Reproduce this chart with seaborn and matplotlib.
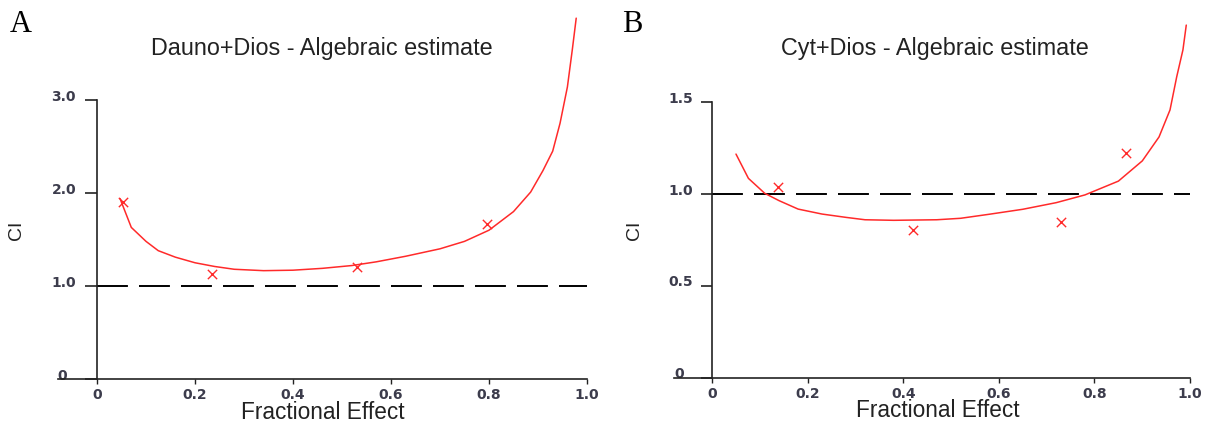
import numpy as np
import pandas as pd
import matplotlib
matplotlib.use("Agg")
import matplotlib.pyplot as plt
import matplotlib.transforms as mtransforms
import seaborn as sns

# ---------------- data ----------------
# Panel A: Dauno+Dios
a_curve_fa = [0.047, 0.07, 0.10, 0.125, 0.16, 0.20, 0.24, 0.28, 0.34, 0.40, 0.46,
              0.52, 0.57, 0.63, 0.70, 0.75, 0.80, 0.85, 0.885, 0.91, 0.93, 0.945,
              0.96, 0.97, 0.978]
a_curve_ci = [1.94, 1.63, 1.48, 1.38, 1.31, 1.25, 1.21, 1.18, 1.165, 1.17, 1.19,
              1.22, 1.26, 1.32, 1.40, 1.48, 1.60, 1.80, 2.01, 2.24, 2.45, 2.75,
              3.14, 3.54, 3.88]
a_pts_fa = [0.054, 0.235, 0.53, 0.795]
a_pts_ci = [1.90, 1.13, 1.20, 1.67]

# Panel B: Cyt+Dios
b_curve_fa = [0.05, 0.076, 0.11, 0.14, 0.18, 0.23, 0.28, 0.32, 0.38, 0.47, 0.52,
              0.58, 0.65, 0.72, 0.78, 0.85, 0.90, 0.935, 0.958, 0.972, 0.985, 0.992]
b_curve_ci = [1.217, 1.085, 1.004, 0.964, 0.918, 0.891, 0.873, 0.86, 0.857, 0.86,
              0.868, 0.89, 0.917, 0.953, 0.995, 1.07, 1.18, 1.31, 1.457, 1.637,
              1.783, 1.918]
b_pts_fa = [0.137, 0.421, 0.73, 0.865]
b_pts_ci = [1.036, 0.804, 0.85, 1.221]

x_ticks = [0, 0.2, 0.4, 0.6, 0.8, 1.0]
x_ticklabels = ["0", "0.2", "0.4", "0.6", "0.8", "1.0"]
a_yticks = [0, 1.0, 2.0, 3.0]
a_yticklabels = ["0", "1.0", "2.0", "3.0"]
b_yticks = [0, 0.5, 1.0, 1.5]
b_yticklabels = ["0", "0.5", "1.0", "1.5"]

titles = ["Dauno+Dios - Algebraic estimate", "Cyt+Dios - Algebraic estimate"]
panel_letters = ["A", "B"]

# ---------------- style ----------------
sns.set_style("white")
plt.rcParams["font.family"] = ["Liberation Sans", "DejaVu Sans"]

fig = plt.figure(figsize=(12.10, 4.24), dpi=100)

RED = "#ff2a2a"
TICKCOL = "#3c3c4c"

panels = [
    dict(rect=[0.04777, 0.1061, 0.4414, 0.8774], ylim=(0, 4.0), ybound=3.0,
         cf=a_curve_fa, cc=a_curve_ci, pf=a_pts_fa, pc=a_pts_ci,
         yt=a_yticks, ytl=a_yticklabels, title=titles[0], tx=322, letter="A", lx=10,
         xl_x=0.4965, ytick_pad=6.5, ytick_len=8.6),
    dict(rect=[0.5569, 0.1085, 0.4306, 0.8679], ylim=(0, 2.0), ybound=1.5,
         cf=b_curve_fa, cc=b_curve_ci, pf=b_pts_fa, pc=b_pts_ci,
         yt=b_yticks, ytl=b_yticklabels, title=titles[1], tx=935, letter="B", lx=622,
         xl_x=0.506, ytick_pad=5.5, ytick_len=8.0),
]

for p in panels:
    ax = fig.add_axes(p["rect"])
    ax.set_facecolor("white")
    ax.set_xlim(-0.08, 1.01)
    ax.set_ylim(*p["ylim"])

    df_line = pd.DataFrame({"fa": p["cf"], "ci": p["cc"]})
    df_pts = pd.DataFrame({"fa": p["pf"], "ci": p["pc"]})

    # reference line CI = 1
    df_ref = pd.DataFrame({"fa": [0.0, 1.0], "ci": [1.0, 1.0]})
    sns.lineplot(data=df_ref, x="fa", y="ci", ax=ax, color="black", lw=1.4,
                 estimator=None, sort=False, dashes=False)
    ax.lines[-1].set_dashes((15.9, 5.7))

    sns.lineplot(data=df_line, x="fa", y="ci", ax=ax, color=RED, lw=1.1,
                 estimator=None, sort=False)
    ax.lines[-1].set_clip_on(False)
    sns.scatterplot(data=df_pts, x="fa", y="ci", ax=ax, marker="x", color=RED,
                    s=45, linewidth=1.0)

    # spines
    for side in ["top", "right"]:
        ax.spines[side].set_visible(False)
    for side in ["left", "bottom"]:
        ax.spines[side].set_color("#222222")
        ax.spines[side].set_linewidth(1.2)
    ax.spines["left"].set_bounds(0, p["ybound"])
    ax.spines["bottom"].set_bounds(-0.08, 1.0)
    ax.spines["left"].set_position(("data", 0))

    ax.set_xticks(x_ticks)
    ax.set_xticklabels(x_ticklabels)
    ax.set_yticks(p["yt"])
    ax.set_yticklabels(p["ytl"])
    ax.tick_params(axis="y", direction="out", length=p["ytick_len"], width=1.2,
                   color="#222222", pad=p["ytick_pad"], left=True,
                   labelsize=10, labelcolor=TICKCOL)
    ax.tick_params(axis="x", direction="out", length=3.5, width=1.0,
                   color="#222222", pad=3.0, bottom=True,
                   labelsize=10, labelcolor=TICKCOL)
    for lab in ax.get_xticklabels() + ax.get_yticklabels():
        lab.set_fontfamily(["DejaVu Sans"])
        lab.set_fontweight("bold")
    off = mtransforms.ScaledTranslation(0, 5 / 100, fig.dpi_scale_trans)
    off0 = mtransforms.ScaledTranslation(-9 / 100, 5 / 100, fig.dpi_scale_trans)
    for i, lab in enumerate(ax.get_yticklabels()):
        lab.set_transform(lab.get_transform() + (off0 if i == 0 else off))

    ax.set_xlabel("Fractional Effect", fontsize=16.3, color="#222222")
    ax.xaxis.set_label_coords(p["xl_x"], -0.058)
    ax.set_ylabel("CI", fontsize=14, color="#222222")
    ax.yaxis.label.set_va("center")
    ax.yaxis.label.set_ha("center")
    ax.yaxis.set_label_coords(-0.0764, 0.40)

    fig.text(p["tx"] / 1210, 1 - 49 / 424, p["title"], ha="center", va="center",
             fontsize=16.8, color="#222222")
    fig.text(p["lx"] / 1210, 1 - 32 / 424, p["letter"], ha="left", va="baseline",
             fontsize=22, family=["Liberation Serif", "DejaVu Serif"], color="black")

fig.savefig("out.png", dpi=100, facecolor="white")
